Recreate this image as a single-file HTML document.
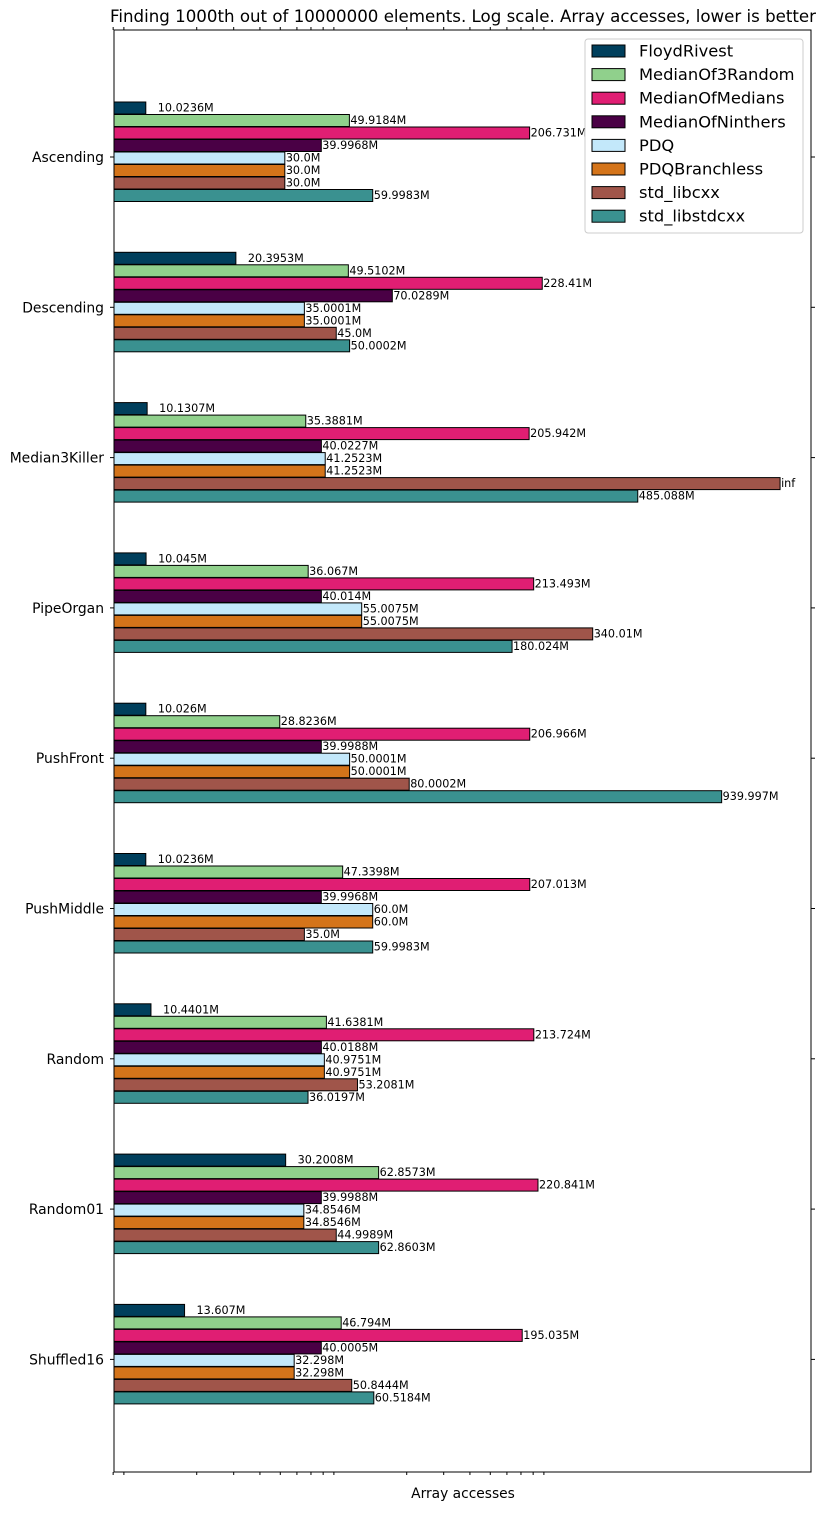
<!DOCTYPE html>
<html><head><meta charset="utf-8"><style>
body{margin:0;background:#fff;}
svg text{font-family:"DejaVu Sans","Liberation Sans",sans-serif;}
</style></head><body>
<svg id="chart" width="826" height="1511" xmlns="http://www.w3.org/2000/svg">
<rect x="0" y="0" width="826" height="1511" fill="#fff"/>
<text x="463" y="22" font-size="16.6" text-anchor="middle" textLength="706" lengthAdjust="spacingAndGlyphs">Finding 1000th out of 10000000 elements. Log scale. Array accesses, lower is better</text>
<text x="463" y="1498" font-size="13.8" text-anchor="middle">Array accesses</text>
<g id="plot"></g>
</svg>
<script>
const categories = ["Ascending","Descending","Median3Killer","PipeOrgan","PushFront","PushMiddle","Random","Random01","Shuffled16"];
const seriesNames = ["FloydRivest","MedianOf3Random","MedianOfMedians","MedianOfNinthers","PDQ","PDQBranchless","std_libcxx","std_libstdcxx"];
const seriesColors = ["#003f5c","#90d08c","#e01e73","#4a0045","#c3e8fa","#d4741a","#a0554a","#3a9190"];
const floydRivest = [10.0236,20.3953,10.1307,10.045,10.026,10.0236,10.4401,30.2008,13.607];
const medianOf3Random = [49.9184,49.5102,35.3881,36.067,28.8236,47.3398,41.6381,62.8573,46.794];
const medianOfMedians = [206.731,228.41,205.942,213.493,206.966,207.013,213.724,220.841,195.035];
const medianOfNinthers = [39.9968,70.0289,40.0227,40.014,39.9988,39.9968,40.0188,39.9988,40.0005];
const pdq = [30.0,35.0001,41.2523,55.0075,50.0001,60.0,40.9751,34.8546,32.298];
const pdqBranchless = [30.0,35.0001,41.2523,55.0075,50.0001,60.0,40.9751,34.8546,32.298];
const stdLibcxx = [30.0,45.0,Infinity,340.01,80.0002,35.0,53.2081,44.9989,50.8444];
const stdLibstdcxx = [59.9983,50.0002,485.088,180.024,939.997,59.9983,36.0197,62.8603,60.5184];
const labels = [
 ["10.0236M","20.3953M","10.1307M","10.045M","10.026M","10.0236M","10.4401M","30.2008M","13.607M"],
 ["49.9184M","49.5102M","35.3881M","36.067M","28.8236M","47.3398M","41.6381M","62.8573M","46.794M"],
 ["206.731M","228.41M","205.942M","213.493M","206.966M","207.013M","213.724M","220.841M","195.035M"],
 ["39.9968M","70.0289M","40.0227M","40.014M","39.9988M","39.9968M","40.0188M","39.9988M","40.0005M"],
 ["30.0M","35.0001M","41.2523M","55.0075M","50.0001M","60.0M","40.9751M","34.8546M","32.298M"],
 ["30.0M","35.0001M","41.2523M","55.0075M","50.0001M","60.0M","40.9751M","34.8546M","32.298M"],
 ["30.0M","45.0M","inf","340.01M","80.0002M","35.0M","53.2081M","44.9989M","50.8444M"],
 ["59.9983M","50.0002M","485.088M","180.024M","939.997M","59.9983M","36.0197M","62.8603M","60.5184M"]
];
const series = [floydRivest,medianOf3Random,medianOfMedians,medianOfNinthers,pdq,pdqBranchless,stdLibcxx,stdLibstdcxx];

const NS="http://www.w3.org/2000/svg";
const g=document.getElementById('plot');
const L=114,R=811,T=30,B=1472;
function xScale(v){ if(!isFinite(v)) v=1490; return 145.5+292*Math.log10(v/10); }
function yCenter(i){ return 157+150.3*i; }
function mk(tag,attrs){const e=document.createElementNS(NS,tag);for(const k in attrs)e.setAttribute(k,attrs[k]);g.appendChild(e);return e;}

categories.forEach((c,ci)=>{
  const cy=yCenter(ci);
  series.forEach((s,si)=>{
    const top=cy-55+12.5*si;
    const xe=Math.min(xScale(s[ci]),R);
    const r=mk('rect',{x:L,y:top,width:xe-L,height:12,fill:seriesColors[si],stroke:'#000','stroke-width':1});
    
    
    const t=mk('text',{x:xe+(si===0?12:1),y:top+9.5,'font-size':11.2});
    
    
    t.textContent=labels[si][ci];
  });
  const lab=mk('text',{x:104,y:cy+5,'font-size':13.9,'text-anchor':'end'});
  
  
  lab.textContent=c;
  const tl=mk('line',{x1:L-4,x2:L,y1:cy,y2:cy,stroke:'#000'});
  
  
  const tr=mk('line',{x1:R,x2:R+4,y1:cy,y2:cy,stroke:'#000'});
  
  
});

const frame=mk('rect',{x:L,y:T,width:R-L,height:B-T,fill:'none',stroke:'#000','stroke-width':1});



function tickX(m,dec){ return 133.5+210*(dec+Math.log10(m)); }
const tickMult=[[-1,8],[-1,9],[0,2],[0,3],[0,4],[0,5],[0,6],[0,7],[0,8],[0,9],[1,2],[1,3],[1,4],[1,5],[1,6],[1,7],[1,8],[1,9]];
tickMult.forEach(([d,m])=>{
  const x=tickX(m,d);
  const a=mk('line',{x1:x,x2:x,y1:B,y2:B+3,stroke:'#000'});
  
  
  const b=mk('line',{x1:x,x2:x,y1:T,y2:T-3,stroke:'#000'});
  
  
});

const lg=mk('rect',{x:585,y:39,width:218,height:194,fill:'#fff',stroke:'#ccc',rx:3});


seriesNames.forEach((n,i)=>{
  const y=51+23.6*i;
  const p=mk('rect',{x:592,y:y-6,width:33,height:12,fill:seriesColors[i],stroke:'#000'});
  
  
  const t=mk('text',{x:639,y:y+5.5,'font-size':16.3});
  
  
  t.textContent=n;
});
</script>
</body></html>
